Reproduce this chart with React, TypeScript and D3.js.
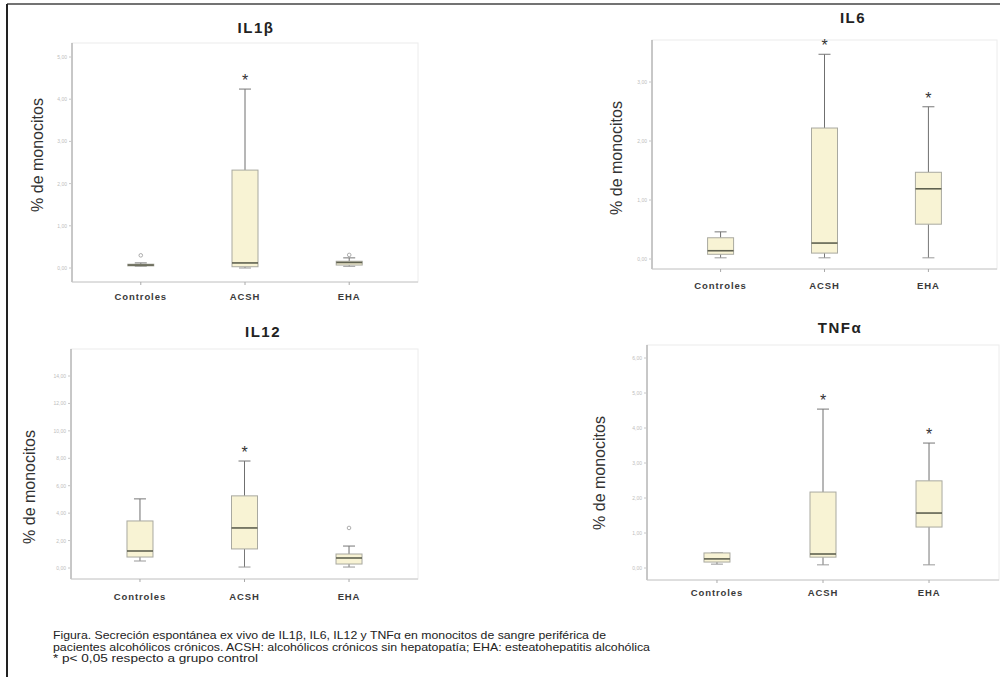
import React from "react";
import * as d3 from "d3";

const groups = ["Controles", "ACSH", "EHA"];

// per group: [min, q1, median, q3, max]
const il1bStats = [[0.04, 0.05, 0.07, 0.09, 0.12], [0.0, 0.03, 0.12, 2.32, 4.24], [0.04, 0.07, 0.13, 0.16, 0.24]];
const il1bOutliers = [[0.3], [], [0.31]];
const il1bSig = [false, true, false];
const il1bTicks = [0, 1, 2, 3, 4, 5];

const il6Stats = [[0.02, 0.08, 0.14, 0.36, 0.46], [0.02, 0.1, 0.27, 2.22, 3.47], [0.02, 0.59, 1.19, 1.47, 2.58]];
const il6Outliers = [[], [], []];
const il6Sig = [false, true, true];
const il6Ticks = [0, 1, 2, 3];

const il12Stats = [[0.51, 0.8, 1.24, 3.43, 5.04], [0.07, 1.39, 2.92, 5.26, 7.8], [0.07, 0.29, 0.73, 1.02, 1.6]];
const il12Outliers = [[], [], [2.92]];
const il12Sig = [false, true, false];
const il12Ticks = [0, 2, 4, 6, 8, 10, 12, 14];

const tnfStats = [[0.11, 0.17, 0.26, 0.43, 0.43], [0.09, 0.31, 0.4, 2.17, 4.54], [0.09, 1.17, 1.57, 2.49, 3.57]];
const tnfOutliers = [[], [], []];
const tnfSig = [false, true, true];
const tnfTicks = [0, 1, 2, 3, 4, 5, 6];

const captionLines = [
  "Figura.  Secreción espontánea ex vivo de IL1β, IL6, IL12 y TNFα en monocitos de sangre periférica de",
  "pacientes alcohólicos crónicos. ACSH: alcohólicos crónicos sin hepatopatía; EHA: esteatohepatitis alcohólica",
  "* p< 0,05 respecto a grupo control",
];
const captionWidths = [553, 597, 205];

// layout of each panel (pixels)
const panels = [
  { title: "IL1β", stats: il1bStats, outliers: il1bOutliers, sig: il1bSig, ticks: il1bTicks,
    left: 72, right: 418, top: 43, bottom: 282, zeroY: 268, topTickY: 57, titleX: 256, titleY: 33, ylabX: 43, ylabY: 155, catY: 300 },
  { title: "IL6", stats: il6Stats, outliers: il6Outliers, sig: il6Sig, ticks: il6Ticks,
    left: 652, right: 997, top: 40, bottom: 269, zeroY: 259, topTickY: 82, titleX: 853, titleY: 23, ylabX: 622, ylabY: 158, catY: 289 },
  { title: "IL12", stats: il12Stats, outliers: il12Outliers, sig: il12Sig, ticks: il12Ticks,
    left: 71, right: 418, top: 349, bottom: 579, zeroY: 568, topTickY: 376, titleX: 263, titleY: 337, ylabX: 35, ylabY: 487, catY: 600 },
  { title: "TNFα", stats: tnfStats, outliers: tnfOutliers, sig: tnfSig, ticks: tnfTicks,
    left: 647, right: 999, top: 345, bottom: 580, zeroY: 568, topTickY: 358, titleX: 840, titleY: 333, ylabX: 605, ylabY: 473, catY: 596 },
];

const fmt = (v: number) => d3.format(".2f")(v).replace(".", ",");

function BoxPanel({ p }: { p: any }) {
  const y = d3.scaleLinear().domain([0, d3.max(p.ticks as number[]) as number]).range([p.zeroY, p.topTickY]);
  const x = d3.scalePoint().domain(groups).range([p.left, p.right]).padding(0.66);
  const bw = 26;
  const cap = 12;
  return (
    <g>
      <text x={p.titleX} y={p.titleY} textAnchor="middle" fontSize={15} fontWeight="bold" letterSpacing={1.5} fill="#222">{p.title}</text>
      <rect x={p.left} y={p.top} width={p.right - p.left} height={p.bottom - p.top} fill="none" stroke="#ececec" />
      <line x1={p.left} x2={p.left} y1={p.top} y2={p.bottom} stroke="#9a9a9a" />
      <line x1={p.left} x2={p.right} y1={p.bottom} y2={p.bottom} stroke="#c8c8c8" />
      {(p.ticks as number[]).map((t) => (
        <g key={t}>
          <line x1={p.left - 3} x2={p.left} y1={y(t)} y2={y(t)} stroke="#c8c8c8" />
          <text x={p.left - 5} y={y(t) + 2} textAnchor="end" fontSize={5} fill="#bdbdbd">{fmt(t)}</text>
        </g>
      ))}
      <text transform={`translate(${p.ylabX},${p.ylabY}) rotate(-90)`} textAnchor="middle" fontSize={16} fill="#333">% de monocitos</text>
      {groups.map((g, i) => {
        const [mn, q1, md, q3, mx] = p.stats[i];
        const cx = x(g) as number;
        return (
          <g key={g}>
            <line x1={cx} x2={cx} y1={p.bottom} y2={p.bottom + 3} stroke="#aaa" />
            <text x={cx} y={p.catY} textAnchor="middle" fontSize={9.5} fontWeight="bold" letterSpacing={0.9} fill="#3a3a3a">{g}</text>
            <line x1={cx} x2={cx} y1={y(mx)} y2={y(q3)} stroke="#6f6f6f" />
            <line x1={cx} x2={cx} y1={y(q1)} y2={y(mn)} stroke="#777" />
            <line x1={cx - cap / 2} x2={cx + cap / 2} y1={y(mx)} y2={y(mx)} stroke="#777" />
            <line x1={cx - cap / 2} x2={cx + cap / 2} y1={y(mn)} y2={y(mn)} stroke="#999" />
            <rect x={cx - bw / 2} y={y(q3)} width={bw} height={Math.max(1, y(q1) - y(q3))} fill="#f8f3d4" stroke="#a9a9a0" />
            <line x1={cx - bw / 2} x2={cx + bw / 2} y1={y(md)} y2={y(md)} stroke="#5f6150" strokeWidth={1.6} />
            {p.outliers[i].map((o: number, k: number) => (
              <circle key={k} cx={cx} cy={y(o)} r={1.8} fill="none" stroke="#999" strokeWidth={0.8} />
            ))}
            {p.sig[i] && (
              <text x={cx} y={y(mx) - 3} textAnchor="middle" fontSize={16} fill="#333">*</text>
            )}
          </g>
        );
      })}
    </g>
  );
}

export default function App() {
  return (
    <div style={{ position: "absolute", left: 0, top: 0 }}>
      <svg width={1000} height={677} style={{ display: "block", fontFamily: "'Liberation Sans', Arial, sans-serif", background: "#fff" }}>
        <line x1={7} x2={1000} y1={4} y2={4} stroke="#444" strokeWidth={1.5} />
        <line x1={7} x2={7} y1={4} y2={677} stroke="#222" strokeWidth={2} />
        {panels.map((p) => (
          <BoxPanel key={p.title} p={p} />
        ))}
        {captionLines.map((t, i) => (
          <text key={i} x={53} y={639 + i * 11.5} fontSize={10.5} fill="#222" textLength={captionWidths[i]} lengthAdjust="spacingAndGlyphs">{t}</text>
        ))}
      </svg>
    </div>
  );
}
